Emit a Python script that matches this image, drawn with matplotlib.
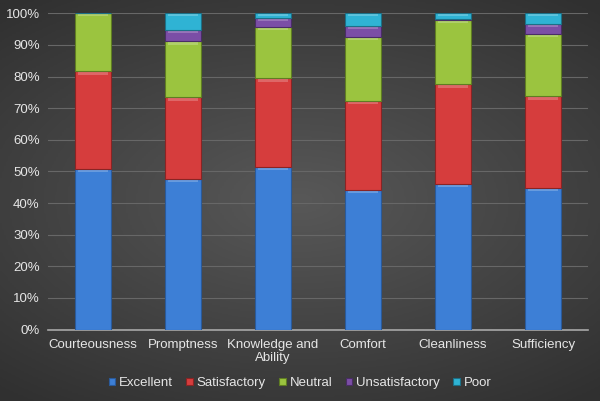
import matplotlib
matplotlib.use('Agg')
import matplotlib.pyplot as plt
import numpy as np
from matplotlib.ticker import PercentFormatter

plt.rcParams['font.family'] = ['Liberation Sans', 'DejaVu Sans']

# survey results, % of responses
categories = ['Courteousness', 'Promptness', 'Knowledge and\nAbility', 'Comfort', 'Cleanliness', 'Sufficiency']
excellent = [50.9, 47.6, 51.4, 44.1, 46.1, 44.7]
satisfactory = [30.7, 25.8, 28.0, 28.1, 31.4, 29.0]
neutral = [18.4, 17.7, 16.2, 20.2, 20.3, 19.7]
unsatisfactory = [0.0, 3.5, 2.8, 3.5, 0.3, 3.1]
poor = [0.0, 5.4, 1.6, 4.1, 1.9, 3.5]

series = [('Excellent', excellent, '#3d7fd6', '#2a5a9a'),
          ('Satisfactory', satisfactory, '#d63d3d', '#8a2424'),
          ('Neutral', neutral, '#9bc43f', '#5f7d22'),
          ('Unsatisfactory', unsatisfactory, '#7b4ea6', '#4a2d66'),
          ('Poor', poor, '#2fb3d4', '#1c7087')]

fig = plt.figure(figsize=(6, 4.01), dpi=100)

# dark radial-ish background
bg = fig.add_axes([0, 0, 1, 1], zorder=-10)
yy, xx = np.mgrid[-1:1:200j, -1:1:300j]
r = np.sqrt((xx * 0.9) ** 2 + (yy * 1.1) ** 2)
bg.imshow(r, cmap=matplotlib.colors.LinearSegmentedColormap.from_list('bg', ['#585858', '#303030']),
          aspect='auto', extent=[0, 1, 0, 1], vmin=0, vmax=1.4)
bg.axis('off')

ax = fig.add_axes([0.08, 0.178, 0.90, 0.789])
ax.patch.set_alpha(0)

x = np.arange(len(categories))
bottom = np.zeros(len(categories))
for name, vals, col, edge in series:
    vals = np.array(vals)
    ax.bar(x, vals, 0.39, bottom=bottom, color=col, edgecolor=edge, linewidth=0.8,
           label=name, zorder=3)
    # light bevel strip at the top of each segment
    hl = np.where(vals > 0.5, 0.7, 0)
    ax.bar(x, hl, 0.34, bottom=bottom + vals - hl - 0.3, color='white', alpha=0.22,
           linewidth=0, zorder=4)
    bottom += vals

ax.set_xlim(-0.5, len(categories) - 0.5)
ax.set_ylim(0, 100)
ax.set_yticks(np.arange(0, 101, 10))
ax.yaxis.set_major_formatter(PercentFormatter(decimals=0))
ax.set_xticks(x)
ax.set_xticklabels(categories, linespacing=1.1)
ax.grid(axis='y', color='#676767', linewidth=0.8, zorder=0)
for s in ['top', 'right', 'left']:
    ax.spines[s].set_visible(False)
ax.spines['bottom'].set_color('#a8a8a8')
ax.spines['bottom'].set_linewidth(1.2)
ax.tick_params(axis='both', length=0, colors='#e6e6e6', labelsize=9.5)
ax.tick_params(axis='x', pad=7)
ax.tick_params(axis='y', pad=6)

fig.legend(loc='center', bbox_to_anchor=(0.5, 0.045), ncol=5, frameon=False,
           fontsize=9.5, labelcolor='#e6e6e6', handlelength=0.5, handleheight=0.5,
           handletextpad=0.3, columnspacing=1.0)

fig.savefig('out.png', dpi=100)
